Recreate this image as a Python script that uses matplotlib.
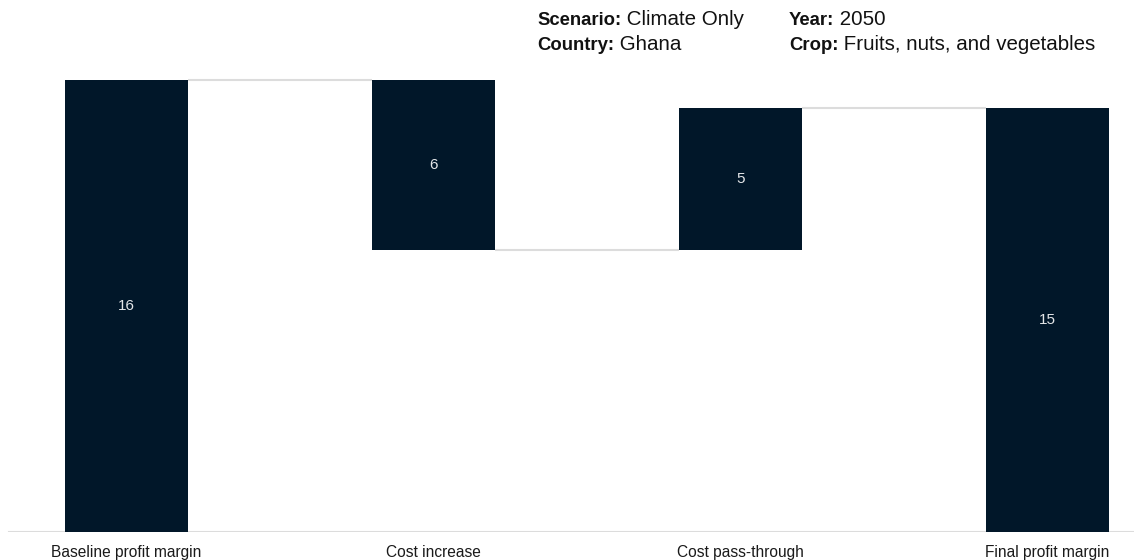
import matplotlib
matplotlib.use("Agg")
import matplotlib.pyplot as plt

categories = ["Baseline profit margin", "Cost increase", "Cost pass-through", "Final profit margin"]
values = [16, -6, 5, 15]
value_labels = ["16", "6", "5", "15"]
kinds = ["total", "delta", "delta", "total"]

header_left = [("Scenario:", "Climate Only"), ("Country:", "Ghana")]
header_right = [("Year:", "2050"), ("Crop:", "Fruits, nuts, and vegetables")]

plt.rcParams['font.family'] = ['Liberation Sans', 'DejaVu Sans']

BAR = "#011729"
GRID = "#dcdcdc"

fig = plt.figure(figsize=(11.34, 5.6), dpi=100)
ax = fig.add_axes([0, 28 / 560, 1, 504 / 560])

bottoms, heights = [], []
running = 0.0
for v, k in zip(values, kinds):
    if k == "total":
        bottoms.append(0.0)
        heights.append(v)
        running = v
    else:
        new = running + v
        bottoms.append(min(running, new))
        heights.append(abs(v))
        running = new

x = list(range(len(categories)))
width = 0.4
ax.bar(x, heights, bottom=bottoms, width=width, color=BAR, zorder=3)

levels = []
running = 0.0
for v, k in zip(values, kinds):
    running = v if k == "total" else running + v
    levels.append(running)
for i in range(len(x) - 1):
    ax.plot([x[i] + width / 2, x[i + 1] - width / 2], [levels[i], levels[i]],
            color=GRID, lw=1.5, zorder=2, solid_capstyle='butt')

for xi, b, h, lab in zip(x, bottoms, heights, value_labels):
    ax.text(xi, b + h / 2, lab, ha='center', va='center', color='#e4e6e8',
            fontsize=11, zorder=4)

ax.set_xlim(-0.4106, 3.282)
ax.set_ylim(0, 504 / 28.25)
ax.axhline(0, xmin=9 / 1134, xmax=1, color=GRID, lw=1.5, zorder=1)

for s in ax.spines.values():
    s.set_visible(False)
ax.set_yticks([])
ax.set_xticks(x)
ax.set_xticklabels(categories, fontsize=11.2, color='#1a1a1a')
ax.tick_params(axis='x', length=0, pad=18)
for lbl in ax.get_xticklabels():
    lbl.set_verticalalignment('baseline')

def header(xpx, ypx, bold, reg):
    t = fig.text(xpx / 1134, 1 - ypx / 560, bold, fontsize=13.3, fontweight='bold',
                 color='#111111', ha='left', va='baseline')
    fig.add_artist(matplotlib.text.Annotation(
        " " + reg, xy=(1, 0), xycoords=t, fontsize=14.8,
        color='#111111', ha='left', va='bottom', annotation_clip=False))

for i, (b, r) in enumerate(header_left):
    header(537, 25 + 25 * i, b, r)
for i, (b, r) in enumerate(header_right):
    header(789, 25 + 25 * i, b, r)

fig.savefig("out.png", dpi=100)
